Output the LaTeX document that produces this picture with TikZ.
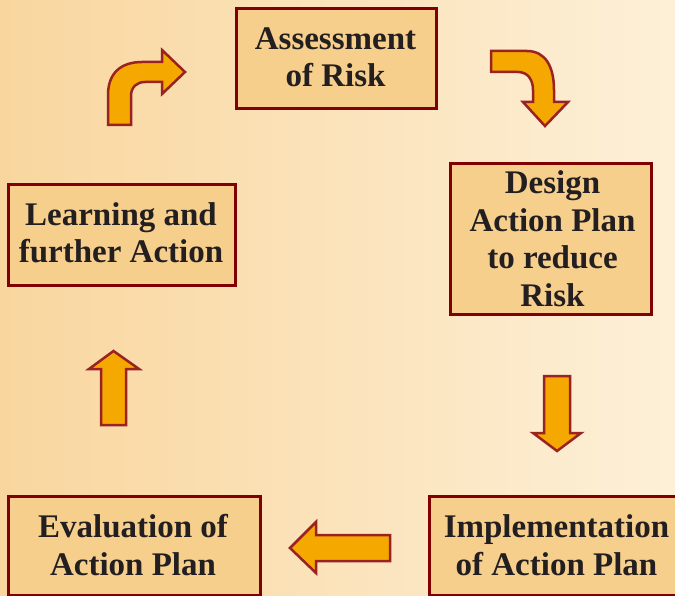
\documentclass[tikz,border=0pt]{standalone}
\usepackage{fontspec}
\setmainfont{Liberation Serif}
\definecolor{bgleft}{RGB}{249,214,158}
\definecolor{bgright}{RGB}{253,240,216}
\definecolor{boxfill}{RGB}{247,207,141}
\definecolor{boxline}{RGB}{128,0,0}
\definecolor{arrfill}{RGB}{245,168,0}
\definecolor{arrline}{RGB}{153,34,34}
\definecolor{txt}{RGB}{35,31,32}
\tikzset{
  stepbox/.style={draw=boxline, fill=boxfill, line width=3pt, rectangle, inner sep=0pt},
  steptext/.style={anchor=base, align=center, text=txt, inner sep=0pt,
    font=\fontsize{33}{37.5}\selectfont\bfseries},
  blockarrow/.style={fill=arrfill, draw=arrline, line width=2.5pt, line join=miter}
}
\begin{document}
\begin{tikzpicture}[x=1pt,y=-1pt]
\shade[left color=bgleft, right color=bgright] (0,0) rectangle (675,596);
\useasboundingbox (0,0) rectangle (675,596);

% boxes
\node[stepbox, minimum width=200pt, minimum height=100pt] (b1) at (336.5,58.5) {};
\node[stepbox, minimum width=201pt, minimum height=151pt] (b2) at (551,239) {};
\node[stepbox, minimum width=254pt, minimum height=99pt] (b3) at (556.5,546) {};
\node[stepbox, minimum width=252pt, minimum height=99pt] (b4) at (134.5,546) {};
\node[stepbox, minimum width=227pt, minimum height=101pt] (b5) at (122,235) {};

% texts (anchor base = baseline of the last line)
\node[steptext] (t1) at (335.5,87) {Assessment\\of Risk};
\node[steptext] (t2) at (552.5,306) {Design\\Action Plan\\to reduce\\Risk};
\node[steptext] (t3) at (556.5,575) {Implementation\\of Action Plan};
\node[steptext] (t4) at (133,575) {Evaluation of\\Action Plan};
\node[steptext] (t5) at (121,263) {Learning and\\further Action};

% curved arrow top-left
\draw[blockarrow] (108,125) -- (108,95) .. controls (108,73) and (121,62) .. (142,62)
  -- (162,62) -- (162,50) -- (185,72) -- (162,94) -- (162,82) -- (145,82)
  .. controls (137,82) and (131,87) .. (131,96) -- (131,125) -- cycle;
% curved arrow top-right
\draw[blockarrow] (491,51) -- (527,51) .. controls (545,51) and (554,66) .. (554,90)
  -- (554,102) -- (568,102) -- (545,126) -- (523,102) -- (533,102) -- (533,90)
  .. controls (533,80) and (528,72) .. (518,72) -- (491,72) -- cycle;
% down arrow
\draw[blockarrow] (544,376) -- (570,376) -- (570,433) -- (581,433) -- (557,451)
  -- (533,433) -- (544,433) -- cycle;
% left arrow
\draw[blockarrow] (390,535) -- (390,561) -- (316,561) -- (316,573) -- (290,548)
  -- (316,522) -- (316,535) -- cycle;
% up arrow
\draw[blockarrow] (101,425) -- (126,425) -- (126,369) -- (139,369) -- (113.5,351)
  -- (89,369) -- (101,369) -- cycle;
\end{tikzpicture}
\end{document}
